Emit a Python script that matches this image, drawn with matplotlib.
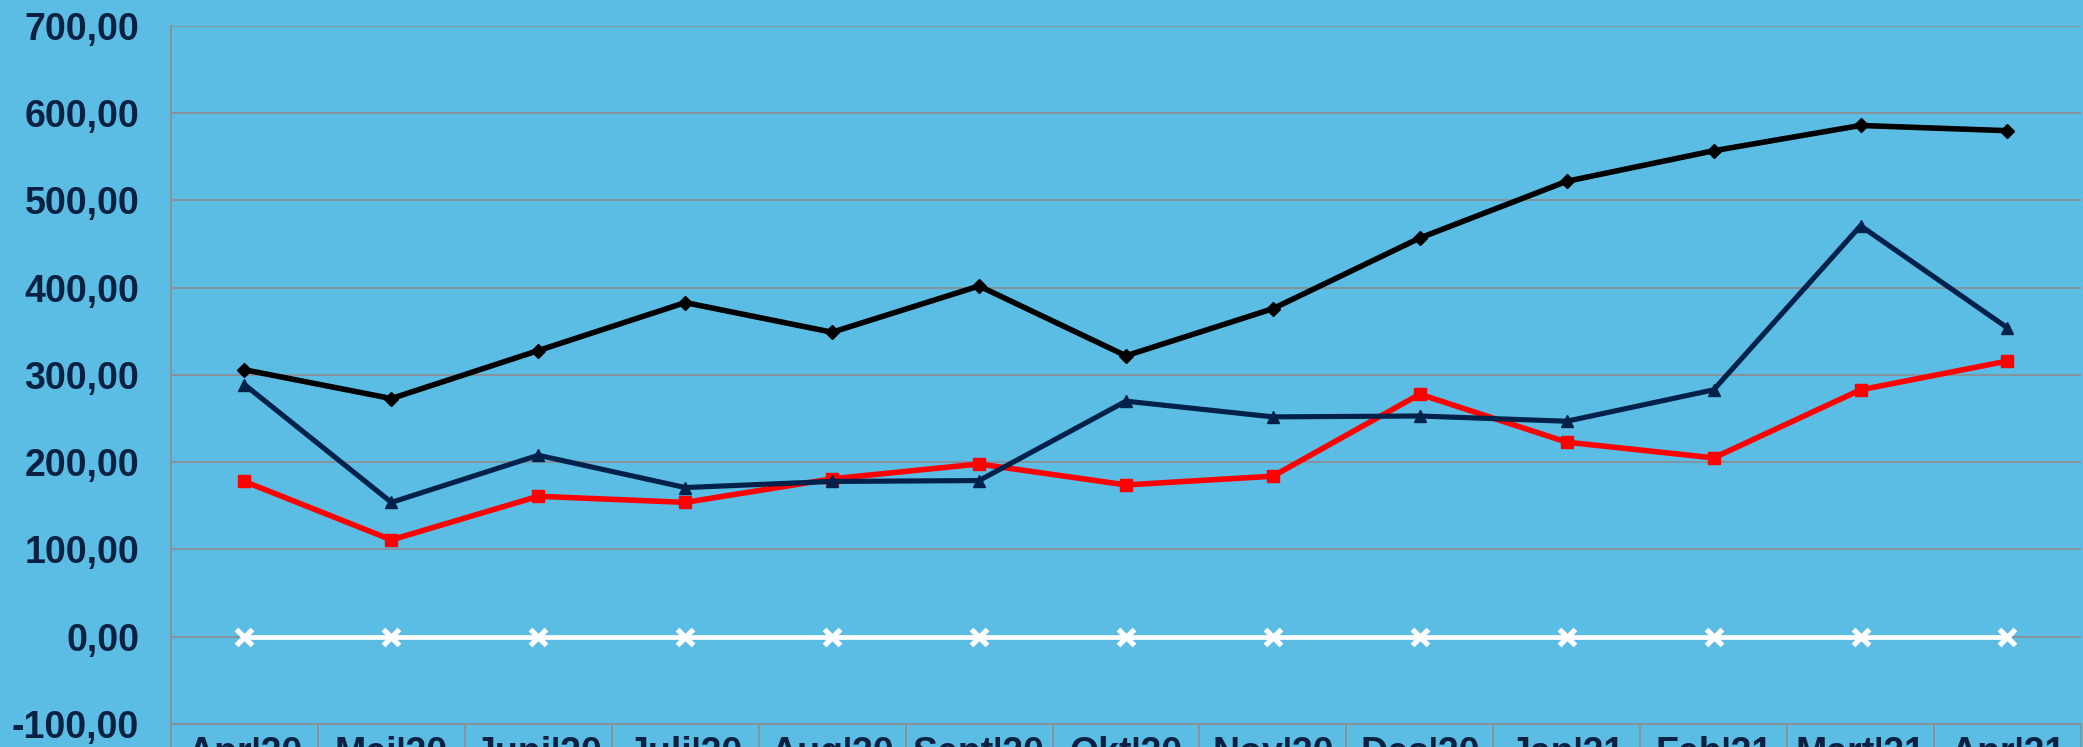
import matplotlib
matplotlib.use("Agg")
import matplotlib.pyplot as plt
import numpy as np
from matplotlib.ticker import FuncFormatter, FixedLocator

# monthly series
months = ["Apr'20", "Mei'20", "Juni'20", "Juli'20", "Aug'20", "Sept'20", "Okt'20",
          "Nov'20", "Des'20", "Jan'21", "Feb'21", "Mart'21", "Apr'21"]
black_vals = [306, 273, 328, 383, 349, 402, 322, 376, 457, 522, 557, 586, 580]
navy_vals = [289, 154, 208, 171, 178, 179, 270, 252, 253, 247, 283, 471, 354]
red_vals = [178, 111, 161, 154, 181, 198, 174, 184, 278, 223, 205, 283, 316]
white_vals = [0, 0, 0, 0, 0, 0, 0, 0, 0, 0, 0, 0, 0]

bg = "#5bbde4"
navy = "#00214a"
label_col = "#0b2142"
grid_col = "#8a8f96"

plt.rcParams["font.family"] = ["Liberation Sans", "DejaVu Sans"]

fig = plt.figure(figsize=(20.83, 7.47), dpi=100, facecolor=bg)
ax = fig.add_axes([0.0821, 0.0308, 0.9169, 0.9344], facecolor=bg)

x = np.arange(len(months))
ax.plot(x, white_vals, color="white", lw=3.4, marker="x", ms=11, mew=3.8, zorder=3)
ax.plot(x, red_vals, color="#ff0000", lw=4.0, marker="s", ms=8, zorder=4)
ax.plot(x, navy_vals, color=navy, lw=3.7, marker="^", ms=8, zorder=5)
ax.plot(x, black_vals, color="black", lw=4.0, marker="D", ms=7, zorder=6)

ax.set_ylim(-100, 700)
ax.set_yticks(np.arange(-100, 701, 100))
ax.yaxis.set_major_formatter(FuncFormatter(lambda v, p: f"{v:.2f}".replace(".", ",")))
ax.grid(axis="y", color=grid_col, lw=1.3)
ax.set_axisbelow(True)

ax.set_xlim(-0.5, len(months) - 0.5)
ax.set_xticks(x)
ax.set_xticklabels(months)
ax.xaxis.set_minor_locator(FixedLocator(np.arange(-0.5, len(months), 1.0)))
ax.tick_params(axis="x", which="major", length=0, pad=9)
ax.tick_params(axis="x", which="minor", length=30, width=1.3, color=grid_col, direction="out")
ax.tick_params(axis="y", length=0, pad=23)

for lbl in ax.get_xticklabels() + ax.get_yticklabels():
    lbl.set_fontsize(27)
    lbl.set_fontweight("bold")
    lbl.set_color(label_col)

for side in ("top", "right"):
    ax.spines[side].set_visible(False)
for side in ("left", "bottom"):
    ax.spines[side].set_color(grid_col)
    ax.spines[side].set_linewidth(1.3)

fig.savefig("out.png", dpi=100, facecolor=bg)
